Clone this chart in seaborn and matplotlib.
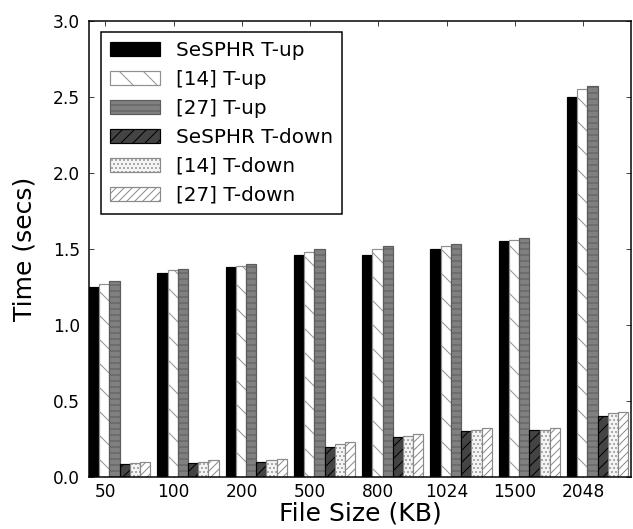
import matplotlib
matplotlib.use("Agg")
import matplotlib.pyplot as plt
import pandas as pd
import seaborn as sns

# ==========================
# data
# ==========================
file_sizes = ["50", "100", "200", "500", "800", "1024", "1500", "2048"]
series = ["SeSPHR T-up", "[14] T-up", "[27] T-up",
          "SeSPHR T-down", "[14] T-down", "[27] T-down"]

sesphr_up = [1.25, 1.34, 1.38, 1.46, 1.46, 1.50, 1.55, 2.50]
ref14_up = [1.27, 1.36, 1.39, 1.48, 1.50, 1.52, 1.56, 2.55]
ref27_up = [1.29, 1.37, 1.40, 1.50, 1.52, 1.53, 1.57, 2.57]
sesphr_down = [0.085, 0.09, 0.10, 0.20, 0.26, 0.30, 0.31, 0.40]
ref14_down = [0.09, 0.10, 0.11, 0.22, 0.27, 0.31, 0.31, 0.42]
ref27_down = [0.10, 0.11, 0.12, 0.23, 0.28, 0.32, 0.32, 0.43]

values = [sesphr_up, ref14_up, ref27_up, sesphr_down, ref14_down, ref27_down]

rows = []
for name, vals in zip(series, values):
    for size, v in zip(file_sizes, vals):
        rows.append({"size": size, "time": v, "series": name})
df = pd.DataFrame(rows)

# facecolor, edgecolor, hatch
styles = {
    "SeSPHR T-up": ("black", "black", None),
    "[14] T-up": ("white", "#909090", "\\"),
    "[27] T-up": ("#808080", "#5c5c5c", "--"),
    "SeSPHR T-down": ("#444444", "black", "//"),
    "[14] T-down": ("#f4f4f4", "#8a8a8a", "..."),
    "[27] T-down": ("white", "#8a8a8a", "///"),
}

# ==========================
# figure
# ==========================
sns.set_style("ticks")
plt.rcParams["font.family"] = ["DejaVu Sans"]
plt.rcParams["text.color"] = "black"
plt.rcParams["axes.labelcolor"] = "black"
plt.rcParams["xtick.labelcolor"] = "black"
plt.rcParams["ytick.labelcolor"] = "black"
plt.rcParams["hatch.linewidth"] = 1.0

fig = plt.figure(figsize=(633 / 72, 529 / 72), dpi=72)
ax = fig.add_axes([89 / 633, 52 / 529, 542 / 633, 456 / 529])

sns.barplot(data=df, x="size", y="time", hue="series", hue_order=series,
            order=file_sizes, width=0.9, saturation=1, legend=False,
            errorbar=None, ax=ax)

for cont, name in zip(ax.containers, series):
    fc, ec, hatch = styles[name]
    for bar in cont:
        bar.set_facecolor(fc)
        bar.set_edgecolor(ec)
        bar.set_linewidth(1.2)
        if hatch:
            bar.set_hatch(hatch)

ax.set_ylim(0, 3.0)
ax.set_yticks([0.0, 0.5, 1.0, 1.5, 2.0, 2.5, 3.0])
ax.set_yticklabels(["0.0", "0.5", "1.0", "1.5", "2.0", "2.5", "3.0"])
ax.set_xticks([i - 0.21 for i in range(len(file_sizes))])
ax.set_xticklabels(file_sizes)
ax.set_xlim(-0.45, 7.49)

ax.tick_params(axis="both", which="both", direction="in", top=True, right=True,
               labelsize=17, length=5, width=1, color="#444444")
ax.tick_params(axis="y", pad=9)
ax.tick_params(axis="x", pad=6)
for s in ax.spines.values():
    s.set_linewidth(1.5)
    s.set_color("black")

ax.set_xlabel("File Size (KB)", fontsize=25, labelpad=0)
ax.set_ylabel("Time (secs)", fontsize=25, labelpad=16)

leg = ax.legend(ax.containers, series, loc="upper left", fontsize=20,
                frameon=True, fancybox=False, framealpha=1,
                handlelength=2.5, labelspacing=0.5, borderpad=0.45,
                borderaxespad=0, bbox_to_anchor=(0.022, 0.976))
leg.get_frame().set_edgecolor("black")
leg.get_frame().set_linewidth(1.5)

fig.savefig("out.png", dpi=72)
print("saved out.png")
